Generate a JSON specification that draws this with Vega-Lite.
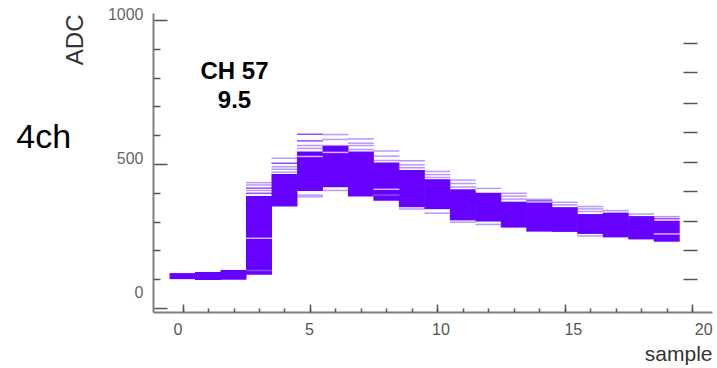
{
  "$schema": "https://vega.github.io/schema/vega-lite/v6.json",
  "autosize": "none",
  "width": 559,
  "height": 299,
  "padding": {"left": 153, "top": 13, "right": 5, "bottom": 56},
  "background": "white",
  "config": {
    "view": {"stroke": null},
    "font": "Liberation Sans",
    "axis": {"grid": false, "labelFont": "Liberation Sans", "titleFont": "Liberation Sans", "domainColor": "#808080", "domainWidth": 2, "tickColor": "#555555", "tickWidth": 1.5, "labelOverlap": false, "labelFlush": false, "labelBound": false}
  },
  "datasets": {
    "core": [
      {"s": 0, "lo": 100, "hi": 121},
      {"s": 1, "lo": 97, "hi": 125},
      {"s": 2, "lo": 98, "hi": 132},
      {"s": 3, "lo": 115, "hi": 389},
      {"s": 4, "lo": 352, "hi": 465},
      {"s": 5, "lo": 406, "hi": 543},
      {"s": 6, "lo": 419, "hi": 564},
      {"s": 7, "lo": 387, "hi": 543},
      {"s": 8, "lo": 372, "hi": 505},
      {"s": 9, "lo": 350, "hi": 479},
      {"s": 10, "lo": 343, "hi": 447},
      {"s": 11, "lo": 304, "hi": 412},
      {"s": 12, "lo": 300, "hi": 400},
      {"s": 13, "lo": 279, "hi": 369},
      {"s": 14, "lo": 265, "hi": 366},
      {"s": 15, "lo": 264, "hi": 350},
      {"s": 16, "lo": 257, "hi": 326},
      {"s": 17, "lo": 245, "hi": 331},
      {"s": 18, "lo": 238, "hi": 319},
      {"s": 19, "lo": 230, "hi": 303}
    ],
    "lines": [
      {"s": 3, "v": 435, "kind": "light"}, {"s": 3, "v": 427, "kind": "light"}, {"s": 3, "v": 416, "kind": "dark"}, {"s": 3, "v": 408, "kind": "light"}, {"s": 3, "v": 398, "kind": "dark"}, {"s": 3, "v": 242, "kind": "gap"}, {"s": 3, "v": 130, "kind": "light"},
      {"s": 4, "v": 520, "kind": "light"}, {"s": 4, "v": 502, "kind": "dark"}, {"s": 4, "v": 490, "kind": "light"}, {"s": 4, "v": 482, "kind": "light"}, {"s": 4, "v": 471, "kind": "light"},
      {"s": 5, "v": 603, "kind": "dark"}, {"s": 5, "v": 580, "kind": "dark"}, {"s": 5, "v": 564, "kind": "light"}, {"s": 5, "v": 554, "kind": "light"}, {"s": 5, "v": 526, "kind": "gap"}, {"s": 5, "v": 392, "kind": "light"}, {"s": 5, "v": 386, "kind": "light"},
      {"s": 6, "v": 602, "kind": "light"}, {"s": 6, "v": 585, "kind": "light"}, {"s": 6, "v": 540, "kind": "gap"}, {"s": 6, "v": 408, "kind": "light"},
      {"s": 7, "v": 587, "kind": "light"}, {"s": 7, "v": 572, "kind": "light"}, {"s": 7, "v": 564, "kind": "light"}, {"s": 7, "v": 550, "kind": "light"},
      {"s": 8, "v": 545, "kind": "light"}, {"s": 8, "v": 527, "kind": "light"}, {"s": 8, "v": 512, "kind": "light"}, {"s": 8, "v": 412, "kind": "gap"}, {"s": 8, "v": 392, "kind": "light"},
      {"s": 9, "v": 511, "kind": "light"}, {"s": 9, "v": 497, "kind": "light"}, {"s": 9, "v": 487, "kind": "light"}, {"s": 9, "v": 344, "kind": "light"},
      {"s": 10, "v": 474, "kind": "light"}, {"s": 10, "v": 463, "kind": "light"}, {"s": 10, "v": 453, "kind": "light"}, {"s": 10, "v": 329, "kind": "light"},
      {"s": 11, "v": 444, "kind": "light"}, {"s": 11, "v": 432, "kind": "light"}, {"s": 11, "v": 420, "kind": "light"}, {"s": 11, "v": 298, "kind": "light"},
      {"s": 12, "v": 415, "kind": "light"}, {"s": 12, "v": 408, "kind": "gap"}, {"s": 12, "v": 290, "kind": "light"},
      {"s": 13, "v": 398, "kind": "light"}, {"s": 13, "v": 388, "kind": "light"}, {"s": 13, "v": 378, "kind": "light"},
      {"s": 14, "v": 377, "kind": "light"}, {"s": 14, "v": 372, "kind": "dark"},
      {"s": 15, "v": 367, "kind": "light"}, {"s": 15, "v": 358, "kind": "light"},
      {"s": 16, "v": 352, "kind": "light"}, {"s": 16, "v": 344, "kind": "light"}, {"s": 16, "v": 335, "kind": "light"}, {"s": 16, "v": 250, "kind": "light"},
      {"s": 17, "v": 338, "kind": "light"},
      {"s": 18, "v": 326, "kind": "light"},
      {"s": 19, "v": 317, "kind": "light"}, {"s": 19, "v": 310, "kind": "dark"}, {"s": 19, "v": 257, "kind": "gap"}
    ],
    "labels": [
      {"t": "CH 57", "x": 2.04, "y": 820},
      {"t": "9.5", "x": 2.04, "y": 718}
    ],
    "side": [
      {"t": "4ch", "x": -5.45, "y": 590}
    ]
  },
  "resolve": {"axis": {"x": "independent", "y": "independent"}},
  "layer": [
    {
      "data": {"name": "core"},
      "mark": {"type": "bar", "width": 26, "color": "#6600ff", "orient": "vertical"},
      "encoding": {
        "x": {"field": "s", "type": "quantitative",
          "scale": {"domain": [-0.963, 20.58], "nice": false, "zero": false},
          "axis": {"orient": "bottom", "values": [0, 5, 10, 15, 20], "format": "d", "tickSize": -8, "labelPadding": 17, "labelFontSize": 16, "labelColor": "#555555",
            "labelOffset": {"condition": [{"test": "datum.value === 0", "value": -5}, {"test": "datum.value === 10", "value": 3}, {"test": "datum.value === 15", "value": 8}, {"test": "datum.value === 20", "value": 11}], "value": -1},
            "title": "sample", "titleFontSize": 21, "titleFontWeight": "normal", "titleColor": "#333333", "titleAnchor": "end", "titlePadding": 6}},
        "y": {"field": "lo", "type": "quantitative",
          "scale": {"domain": [-14, 1024], "nice": false, "zero": false},
          "axis": {"orient": "left", "values": [0, 500, 1000], "format": "d", "tickSize": -14, "labelPadding": 24, "labelFontSize": 16, "labelColor": "#666666",
            "labelOffset": {"condition": {"test": "datum.value === 0", "value": -15}, "value": -5},
            "title": "ADC", "titleFontSize": 24, "titleFontWeight": "normal", "titleColor": "#333333", "titleAnchor": "end", "titleX": -78, "titleY": 1, "titleAlign": "right", "titleBaseline": "middle", "titleAngle": -90}},
        "y2": {"field": "hi"}
      }
    },
    {
      "data": {"name": "lines"},
      "mark": {"type": "tick", "orient": "horizontal", "size": 26, "thickness": 1.5},
      "encoding": {
        "x": {"field": "s", "type": "quantitative",
          "axis": {"orient": "bottom", "values": [0,1,2,3,4,5,6,7,8,9,10,11,12,13,14,15,16,17,18,19,20], "tickSize": -4, "labels": false, "domain": false, "title": null}},
        "y": {"field": "v", "type": "quantitative",
          "axis": {"orient": "left", "values": [100,200,300,400,600,700,800,900], "tickSize": -7, "labels": false, "domain": false, "title": null}},
        "color": {"field": "kind", "type": "nominal", "legend": null,
          "scale": {"domain": ["light", "dark", "gap"], "range": ["#9a6cff", "#6600ff", "#ffffff"]}}
      }
    },
    {
      "data": {"name": "labels"},
      "mark": {"type": "text", "font": "Liberation Sans", "fontSize": 24, "fontWeight": "bold", "color": "#000000", "align": "center", "baseline": "middle"},
      "encoding": {
        "x": {"field": "x", "type": "quantitative", "axis": null},
        "y": {"field": "y", "type": "quantitative",
          "axis": {"orient": "right", "offset": -15, "values": [100, 201, 302, 406, 507, 611, 711, 819, 920], "tickSize": -14, "labels": false, "domain": false, "title": null, "tickColor": "#555555"}},
        "text": {"field": "t"}
      }
    },
    {
      "data": {"name": "side"},
      "mark": {"type": "text", "font": "Liberation Sans", "fontSize": 34, "color": "#000000", "align": "center", "baseline": "middle"},
      "encoding": {
        "x": {"field": "x", "type": "quantitative", "axis": null},
        "y": {"field": "y", "type": "quantitative", "axis": null},
        "text": {"field": "t"}
      }
    },
    {
      "mark": {"type": "rule", "color": "#808080", "strokeWidth": 2},
      "encoding": {
        "x": {"datum": -0.963, "type": "quantitative", "axis": null},
        "x2": {"datum": 20},
        "y": {"datum": 1024, "type": "quantitative", "axis": null}
      }
    }
  ]
}
